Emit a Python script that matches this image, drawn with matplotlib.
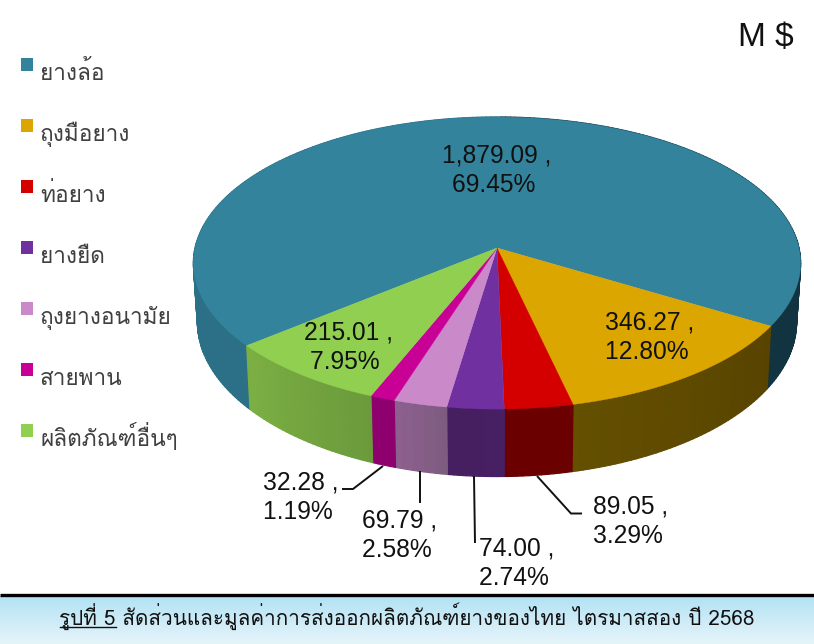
import numpy as np
import matplotlib
matplotlib.use('Agg')
import matplotlib.pyplot as plt
from matplotlib.collections import PolyCollection
from matplotlib.colors import to_rgb

categories = ['ยางล้อ', 'ถุงมือยาง', 'ท่อยาง', 'ยางยืด', 'ถุงยางอนามัย', 'สายพาน', 'ผลิตภัณฑ์อื่นๆ']
values = [1879.09, 346.27, 89.05, 74.00, 69.79, 32.28, 215.01]
percents = [69.45, 12.80, 3.29, 2.74, 2.58, 1.19, 7.95]
unit = 'M $'
caption = 'รูปที่ 5 สัดส่วนและมูลค่าการส่งออกผลิตภัณฑ์ยางของไทย ไตรมาสสอง ปี 2568'

THAI = ['Loma', 'Sarabun', 'Noto Sans Thai', 'DejaVu Sans']
LATIN = ['Liberation Sans', 'DejaVu Sans']

top_colors = ['#33839C', '#DCA600', '#D40000', '#7030A0', '#CA8ACA', '#C90095', '#90CF50']
# wall shade at the start and the end of each slice (clockwise)
wall_colors = [('#2C7088', '#123441'), ('#584300', '#645000'), ('#6B0000', '#6B0000'),
               ('#471F63', '#451F60'), ('#7E5C80', '#8F6090'), ('#8F006F', '#8F006F'),
               ('#6B9A3C', '#7CB043')]

# where the labels go, in pixels
label_pos = [(497, 170), (650, 337), (631, 521), (517, 563), (400, 535), (301, 497), (348, 347)]
leaders = {2: [(537, 476), (571, 513.5), (582, 513.5)],
           3: [(474, 476), (475, 543)],
           4: [(420, 471), (420, 503)],
           5: [(383, 466), (353, 489), (342, 489)]}
legend_y = [65, 126, 187, 248, 309, 370, 431]

START = 230.8
APEX = (497, 248)
K = 0.1028


def project(phi, ax_x, ax_y, apex_y):
    # tilted circle seen in perspective, far side smaller
    u = np.sin(np.radians(phi))
    v = np.cos(np.radians(phi))
    w = 1 + K * v
    return APEX[0] + ax_x * u / w, apex_y - ax_y * v / w


def top_edge(phi):
    return project(phi, 302, 144.5, APEX[1])


def bottom_edge(phi):
    return project(phi, 298, 153, 306)


fig = plt.figure(figsize=(8.14, 6.44), dpi=100)
ax = fig.add_axes([0, 0, 1, 1])
ax.set_xlim(0, 814)
ax.set_ylim(644, 0)
ax.axis('off')

sweeps = 360 * np.array(values) / sum(values)
edges = START + np.concatenate([[0], np.cumsum(sweeps)])

# walls first, the top face covers whatever is at the back
for i in range(len(values)):
    n = max(int(sweeps[i]), 4)
    phis = np.linspace(edges[i], edges[i + 1], n + 1)
    tx, ty = top_edge(phis)
    bx, by = bottom_edge(phis)
    c0 = np.array(to_rgb(wall_colors[i][0]))
    c1 = np.array(to_rgb(wall_colors[i][1]))
    quads = []
    cols = []
    for j in range(n):
        quads.append([(tx[j], ty[j]), (tx[j + 1], ty[j + 1]), (bx[j + 1], by[j + 1]), (bx[j], by[j])])
        t = j / n
        if i == 0:
            # the big slice shows on both sides, lit left and dark right
            t = 1.0 if phis[j] > 360 else 0.0
        cols.append(c0 + (c1 - c0) * t)
    ax.add_collection(PolyCollection(quads, facecolors=cols, edgecolors=cols, linewidths=0.9))

for i in range(len(values)):
    phis = np.linspace(edges[i], edges[i + 1], max(int(sweeps[i]), 4) + 1)
    tx, ty = top_edge(phis)
    ax.fill(np.r_[APEX[0], tx], np.r_[APEX[1], ty], color=top_colors[i], lw=0.3)

for i in leaders:
    xs, ys = zip(*leaders[i])
    ax.plot(xs, ys, color='#111111', lw=1.4, solid_joinstyle='miter', solid_capstyle='butt')

for i in range(len(values)):
    ax.text(label_pos[i][0], label_pos[i][1], f'{values[i]:,.2f} ,\n{percents[i]:.2f}% ',
            family=LATIN, fontsize=17.7, color='#111111', ha='center', va='center', linespacing=1.28)

for i in range(len(categories)):
    ax.fill([21, 33, 33, 21], [legend_y[i] - 7, legend_y[i] - 7, legend_y[i] + 6, legend_y[i] + 6],
            color=top_colors[i], lw=0)
    ax.text(40, legend_y[i] + 15, categories[i], family=THAI, fontsize=16.3, color='#404040',
            ha='left', va='baseline')

ax.text(738, 37, unit, family=LATIN, fontsize=24, color='#111111', ha='left', va='center')

# caption band
gradient = np.linspace(0, 1, 64).reshape(-1, 1)
band = np.array(to_rgb('#B2E2F4')) + (np.array(to_rgb('#E6F4FA')) - np.array(to_rgb('#B2E2F4'))) * gradient[..., None]
ax.imshow(band, extent=[0, 814, 644, 596], aspect='auto', zorder=1)
ax.set_xlim(0, 814)
ax.set_ylim(644, 0)
ax.plot([0, 814], [594.5, 594.5], color='black', lw=2.4, solid_capstyle='butt', zorder=2)
ax.text(407, 625, caption, family=THAI, fontsize=14.9, color='#111111', ha='center', va='baseline', zorder=3)
ax.plot([60, 116], [627, 627], color='#111111', lw=1, zorder=3)

fig.savefig('out.png', dpi=100)
